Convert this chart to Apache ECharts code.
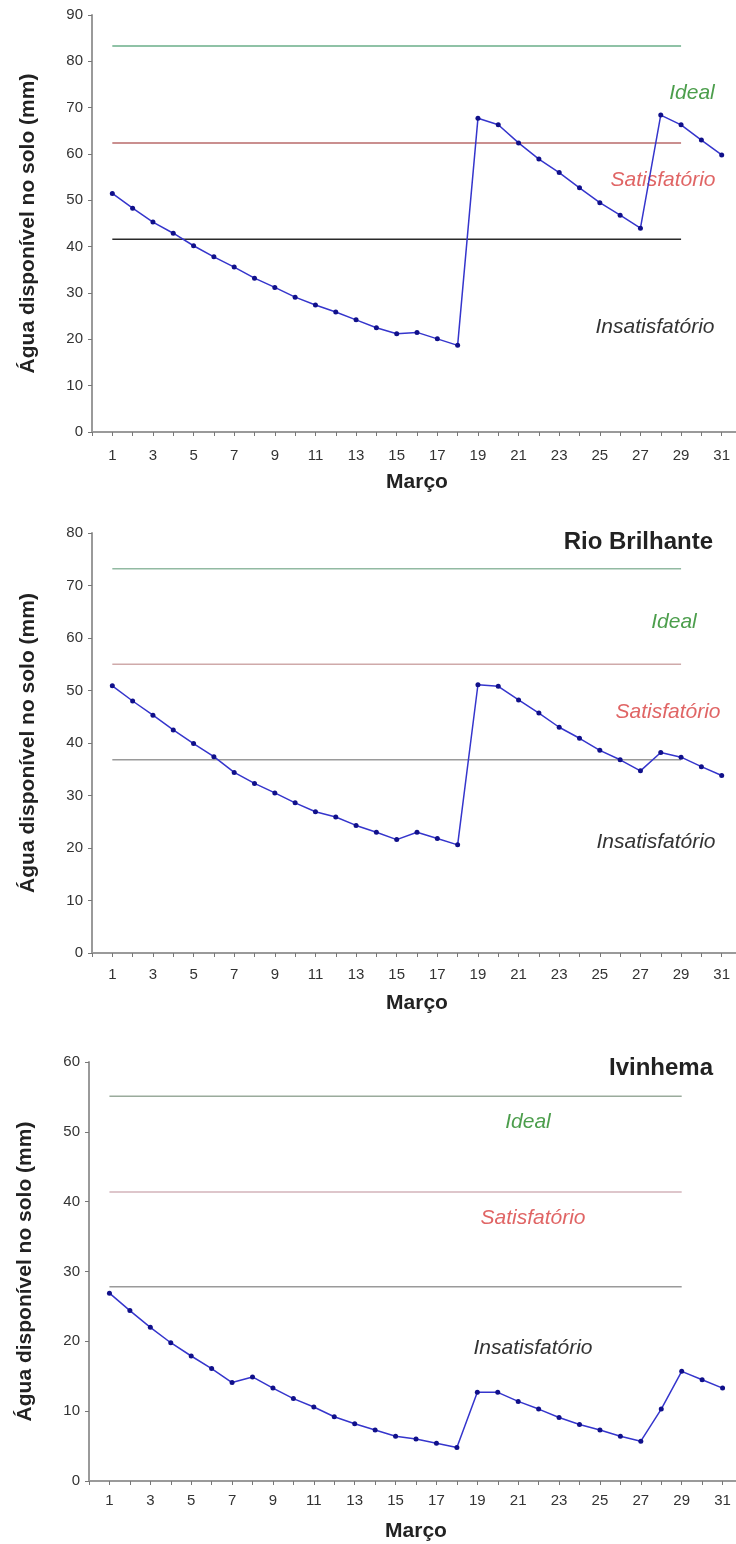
<!DOCTYPE html>
<html>
<head>
<meta charset="utf-8">
<script src="https://cdn.jsdelivr.net/npm/echarts@6/dist/echarts.min.js"></script>
<style>
html,body{margin:0;padding:0;background:#fff;overflow:hidden;}
#chart{width:736px;height:1544px;}
</style>
</head>
<body>
<div id="chart"></div>
<script>
// ---- data ----
const days = [1,2,3,4,5,6,7,8,9,10,11,12,13,14,15,16,17,18,19,20,21,22,23,24,25,26,27,28,29,30,31];
const agua1 = [51.5,48.3,45.3,42.9,40.2,37.8,35.6,33.2,31.2,29.1,27.4,25.9,24.2,22.5,21.2,21.5,20.1,18.7,67.7,66.3,62.4,58.9,56.0,52.7,49.5,46.8,44.0,68.4,66.3,63.0,59.8];
const aguaRioBrilhante = [50.9,48.0,45.3,42.5,39.9,37.4,34.4,32.3,30.5,28.6,26.9,25.9,24.3,23.0,21.6,23.0,21.8,20.6,51.1,50.8,48.2,45.7,43.0,40.9,38.6,36.8,34.7,38.2,37.3,35.5,33.8];
const aguaIvinhema = [26.9,24.4,22.0,19.8,17.9,16.1,14.1,14.9,13.3,11.8,10.6,9.2,8.2,7.3,6.4,6.0,5.4,4.8,12.7,12.7,11.4,10.3,9.1,8.1,7.3,6.4,5.7,10.3,15.7,14.5,13.3];
// thresholds: [Ideal, Satisfatório, Insatisfatório]
const limites1 = [83.3, 62.4, 41.6];
const limitesRioBrilhante = [73.2, 55.0, 36.8];
const limitesIvinhema = [55.1, 41.4, 27.8];
const limiteDias = [1, 29];
const yMax = [90, 80, 60];
const titulos = ['', 'Rio Brilhante', 'Ivinhema'];
const rotulosFaixa = ['Ideal', 'Satisfatório', 'Insatisfatório'];
const yTitulo = 'Água disponível no solo (mm)';
const xTitulo = 'Março';

const FONT = 'Arial, "Liberation Sans", Helvetica, sans-serif';
const panels = [
  {vals: agua1, lim: limites1, grid:{left:92, top:15, width:650, height:417}, labMargin:16,
   limColors:['#6aae88','#b86a6a','#2a2a2a'],
   zoneLabels:[[692,93],[663,180],[655,327]]},
  {vals: aguaRioBrilhante, lim: limitesRioBrilhante, grid:{left:92, top:533, width:650, height:420}, labMargin:14,
   limColors:['#92baa2','#cfaaaa','#9a9a9a'], title:[713,542],
   zoneLabels:[[674,622],[668,712],[656,842]]},
  {vals: aguaIvinhema, lim: limitesIvinhema, grid:{left:89, top:1062, width:654, height:419}, labMargin:12,
   limColors:['#9aab9c','#d3b3ba','#9a9a9a'], title:[713,1068],
   zoneLabels:[[528,1122],[533,1218],[533,1348]]}
];
const zoneColors = ['#4c9e4c','#e06565','#333333'];

const grids=[], xAxes=[], yAxes=[], series=[], graphics=[];
panels.forEach((p,i)=>{
  grids.push(Object.assign({outerBoundsMode:'none', containLabel:false}, p.grid));
  xAxes.push({
    type:'value', gridIndex:i, min:0, max:32, interval:1,
    name:xTitulo, nameLocation:'middle', nameGap:40,
    nameTextStyle:{fontFamily:FONT, fontSize:21, fontWeight:'bold', color:'#222'},
    axisLine:{lineStyle:{color:'#9a9a9a', width:2}},
    axisTick:{show:true, length:4, lineStyle:{color:'#777', width:1}},
    axisLabel:{fontFamily:FONT, fontSize:15, color:'#333', margin:p.labMargin,
      formatter:(v)=> (Number.isInteger(v) && v%2===1 && v<=31) ? String(v) : ''},
    splitLine:{show:false}
  });
  yAxes.push({
    type:'value', gridIndex:i, min:0, max:yMax[i], interval:10,
    name:yTitulo, nameLocation:'middle', nameGap:53, nameRotate:90,
    nameTextStyle:{fontFamily:FONT, fontSize:21, fontWeight:'bold', color:'#222'},
    axisLine:{show:true, lineStyle:{color:'#9a9a9a', width:2}},
    axisTick:{show:true, length:4, lineStyle:{color:'#777'}},
    axisLabel:{fontFamily:FONT, fontSize:15, color:'#333', margin:9},
    splitLine:{show:false}
  });
  p.lim.forEach((v,k)=>{
    series.push({
      type:'line', xAxisIndex:i, yAxisIndex:i, silent:true, symbol:'none',
      data: limiteDias.map(d=>[d, v]),
      lineStyle:{color:p.limColors[k], width:1.5}, z:1
    });
  });
  series.push({
    type:'line', xAxisIndex:i, yAxisIndex:i,
    data: days.map((d,j)=>[d, p.vals[j]]),
    symbol:'circle', symbolSize:5,
    itemStyle:{color:'#10108a'},
    lineStyle:{color:'#3535cc', width:1.5}, z:3
  });
  if (p.title && titulos[i]) {
    graphics.push({type:'text', x:p.title[0], y:p.title[1],
      style:{text:titulos[i], fill:'#222', font:'bold 24px '+FONT, textAlign:'right', textVerticalAlign:'middle'}});
  }
  p.zoneLabels.forEach((pos,k)=>{
    graphics.push({type:'text', x:pos[0], y:pos[1],
      style:{text:rotulosFaixa[k], fill:zoneColors[k], font:'italic 21px '+FONT, textAlign:'center', textVerticalAlign:'middle'}});
  });
});

const chart = echarts.init(document.getElementById('chart'));
chart.setOption({
  animation:false,
  backgroundColor:'#fff',
  grid:grids, xAxis:xAxes, yAxis:yAxes, series:series, graphic:graphics
});
</script>
</body>
</html>
